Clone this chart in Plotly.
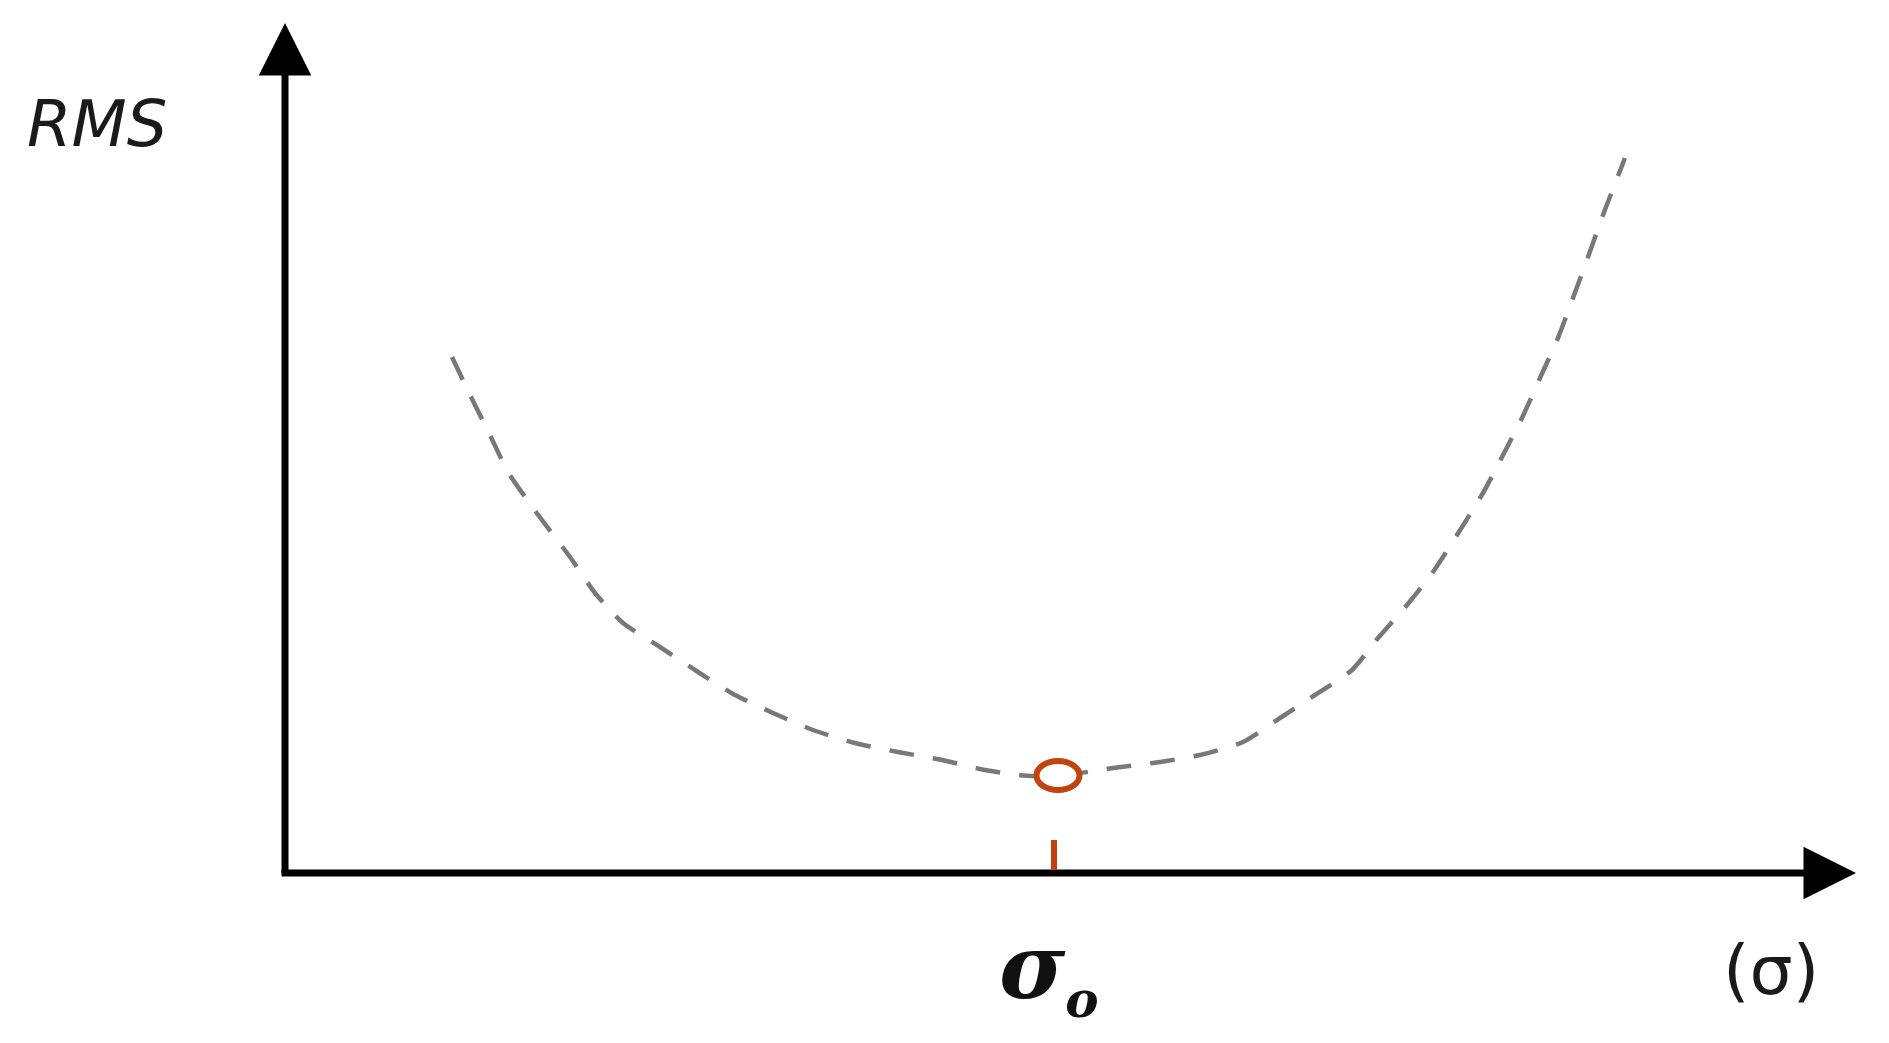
import plotly.graph_objects as go

# ---- data (abstract units: sigma on x, RMS on y) ----
sigma = [1.67, 1.85, 2.04, 2.23, 2.48, 2.85, 3.10, 3.38, 3.75, 4.13, 4.50,
         4.88, 5.28, 5.70, 6.13, 6.57, 7.00, 7.38, 7.73, 8.28, 8.75, 9.15,
         9.58, 9.95, 10.30, 10.67, 10.93, 11.22, 11.48, 11.98, 12.17, 12.37,
         12.55, 12.73, 12.88, 13.03, 13.18, 13.40]
rms = [5.16, 4.78, 4.40, 4.01, 3.65, 3.16, 2.80, 2.50, 2.26, 2.01, 1.78,
       1.60, 1.43, 1.30, 1.21, 1.13, 1.03, 0.975, 0.97, 1.05, 1.11, 1.18,
       1.31, 1.55, 1.78, 2.03, 2.35, 2.68, 3.01, 3.80, 4.16, 4.55,
       4.95, 5.35, 5.75, 6.16, 6.58, 7.15]
sigma_opt = 7.69            # position of the optimum tick on the sigma axis
min_point = (7.73, 0.975)   # the minimum of the curve (circled)
x_axis_end = 15.71
y_axis_end = 8.50
tick_height = 0.33

RED = "#C1440E"

fig = go.Figure()

fig.add_trace(go.Scatter(
    x=sigma, y=rms, mode="lines",
    line=dict(color="#787878", width=4.5, dash="25px,19px", shape="spline", smoothing=0.6),
    hoverinfo="skip", showlegend=False))

# axis lines
fig.add_shape(type="line", xref="x", yref="y", x0=0, y0=0, x1=0, y1=y_axis_end - 0.3,
              line=dict(color="black", width=7))
fig.add_shape(type="line", xref="x", yref="y", x0=-0.035, y0=0, x1=x_axis_end - 0.3, y1=0,
              line=dict(color="black", width=7))
# arrow heads
for (hx, hy) in [(0, y_axis_end), (x_axis_end, 0)]:
    fig.add_annotation(x=hx, y=hy, ax=0, ay=0, xref="x", yref="y", axref="x", ayref="y",
                       text="", showarrow=True, arrowhead=2, arrowsize=1.75,
                       arrowwidth=6, arrowcolor="black", standoff=0)

# red tick at sigma_o
fig.add_shape(type="line", x0=sigma_opt, x1=sigma_opt, y0=0, y1=tick_height,
              xref="x", yref="y", line=dict(color=RED, width=6))

# circle at the minimum (ellipse)
rx, ry = 0.215, 0.145
fig.add_shape(type="circle", xref="x", yref="y",
              x0=min_point[0] - rx, x1=min_point[0] + rx,
              y0=min_point[1] - ry, y1=min_point[1] + ry,
              line=dict(color=RED, width=6), fillcolor="white", layer="above")

fig.add_annotation(x=-1.88, y=7.49, xref="x", yref="y", showarrow=False,
                   text="<i>RMS</i>", font=dict(family="DejaVu Sans", size=64, color="#1a1a1a"))
fig.add_annotation(x=7.64, y=-0.98, xref="x", yref="y", showarrow=False,
                   text='<b><i>σ<sub><span style="font-size:50px">o</span></sub></i></b>',
                   font=dict(family="DejaVu Serif", size=90, color="#111111"))
fig.add_annotation(x=14.86, y=-0.97, xref="x", yref="y", showarrow=False,
                   text="(σ)", font=dict(family="DejaVu Sans", size=68, color="#1a1a1a"))

fig.update_layout(
    width=1889, height=1043, margin=dict(l=0, r=0, t=0, b=0),
    paper_bgcolor="white", plot_bgcolor="white", showlegend=False,
    xaxis=dict(range=[-2.85, 16.04], visible=False, fixedrange=True),
    yaxis=dict(range=[-1.70, 8.73], visible=False, fixedrange=True),
)

fig.write_html("out.html", config={"displayModeBar": False},
               post_script="document.body.style.margin='0';document.body.style.overflow='hidden';")
